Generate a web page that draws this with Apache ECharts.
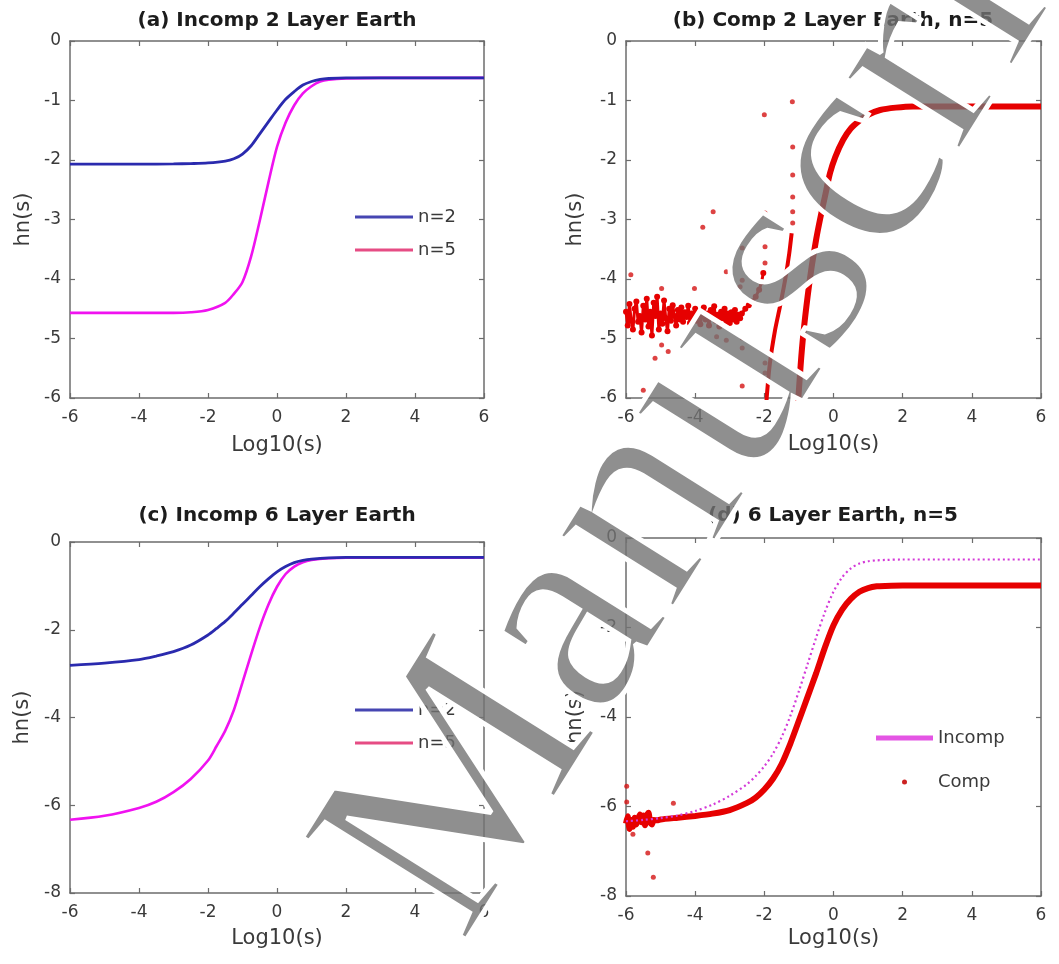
<!DOCTYPE html>
<html>
<head>
<meta charset="utf-8">
<title>hn(s) versus Log10(s)</title>
<script src="https://cdn.jsdelivr.net/npm/echarts@6.0.0/dist/echarts.min.js"></script>
<style>
  html, body { margin: 0; padding: 0; background: #ffffff; }
  #chart { width: 1059px; height: 964px; }
</style>
</head>
<body>
<div id="chart"></div>
<script>
// ---------- data ----------
// (a) incompressible 2-layer Earth
const aX   = [-6, -5, -4, -3, -2.5, -2, -1.5, -1.25, -1, -0.75, -0.5, -0.25, 0, 0.25, 0.5, 0.75, 1, 1.25, 1.5, 2, 3, 4, 5, 6];
const aN2  = [-2.07, -2.07, -2.07, -2.065, -2.06, -2.05, -2.02, -1.98, -1.90, -1.76, -1.56, -1.36, -1.16, -0.98, -0.85, -0.74, -0.68, -0.645, -0.63, -0.62, -0.62, -0.62, -0.62, -0.62];
const aN5  = [-4.57, -4.57, -4.57, -4.57, -4.56, -4.52, -4.40, -4.25, -4.05, -3.62, -3.02, -2.38, -1.78, -1.37, -1.08, -0.88, -0.76, -0.68, -0.65, -0.63, -0.62, -0.62, -0.62, -0.62];

// (b) compressible 2-layer Earth, n=5
const bMainX = [-1.05, -0.95, -0.87, -0.75, -0.63, -0.5, -0.39, -0.25, -0.1, 0.05, 0.28, 0.5, 0.77, 1.0, 1.35, 1.8, 2.3, 3, 4, 5, 6];
const bMainY = [-6.3, -5.45, -4.91, -4.30, -3.79, -3.33, -3.0, -2.62, -2.22, -1.95, -1.66, -1.47, -1.33, -1.24, -1.16, -1.12, -1.10, -1.10, -1.10, -1.10, -1.10];
const bNoise = [
  [-6.00, -4.55], [-5.95, -4.78], [-5.90, -4.42], [-5.85, -4.70], [-5.80, -4.85], [-5.75, -4.50],
  [-5.70, -4.38], [-5.65, -4.72], [-5.60, -4.62], [-5.55, -4.90], [-5.50, -4.45], [-5.45, -4.68],
  [-5.40, -4.33], [-5.35, -4.80], [-5.30, -4.55], [-5.25, -4.95], [-5.20, -4.40], [-5.15, -4.62],
  [-5.10, -4.30], [-5.05, -4.85], [-5.00, -4.58], [-4.95, -4.75], [-4.90, -4.36], [-4.85, -4.66],
  [-4.80, -4.88], [-4.75, -4.50], [-4.70, -4.70], [-4.65, -4.44], [-4.60, -4.62], [-4.55, -4.78],
  [-4.50, -4.52], [-4.45, -4.68], [-4.40, -4.48], [-4.35, -4.72], [-4.30, -4.56], [-4.25, -4.64],
  [-4.20, -4.45], [-4.15, -4.74], [-4.10, -4.58], [-4.05, -4.66], [-4.00, -4.50], [-3.95, -4.70],
  [-3.90, -4.55], [-3.85, -4.76], [-3.80, -4.60], [-3.75, -4.48], [-3.70, -4.68], [-3.65, -4.58],
  [-3.60, -4.78], [-3.55, -4.52], [-3.50, -4.64], [-3.45, -4.46], [-3.40, -4.70], [-3.35, -4.60],
  [-3.30, -4.80], [-3.25, -4.55], [-3.20, -4.66], [-3.15, -4.50], [-3.10, -4.72], [-3.05, -4.58],
  [-3.00, -4.74], [-2.95, -4.56], [-2.90, -4.68], [-2.85, -4.52], [-2.80, -4.72], [-2.75, -4.60],
  [-2.70, -4.66], [-2.65, -4.58], [-2.55, -4.50], [-2.45, -4.44], [-2.35, -4.38], [-2.25, -4.30],
  [-2.15, -4.18], [-2.08, -4.05], [-2.03, -3.90]
];
const bBranch = [[-1.95, -6.2], [-1.93, -5.98], [-1.84, -5.42], [-1.69, -4.86], [-1.55, -4.47], [-1.40, -4.02], [-1.28, -3.57], [-1.21, -3.23]];
const bDots = [
  [-5.86, -3.93], [-5.50, -5.87], [-5.16, -5.33], [-4.97, -5.11], [-4.78, -5.22], [-4.97, -4.16],
  [-4.02, -4.16], [-3.78, -3.13], [-3.48, -2.87], [-3.38, -4.97], [-3.10, -3.88], [-3.10, -5.03],
  [-2.64, -3.48], [-2.64, -4.02], [-2.64, -4.99], [-2.64, -5.16], [-2.64, -5.80], [-2.70, -4.13],
  [-2.00, -1.24], [-1.98, -2.89], [-1.98, -3.46], [-1.98, -3.73], [-1.98, -5.41], [-1.98, -5.58],
  [-1.19, -1.02], [-1.18, -1.78], [-1.18, -2.25], [-1.18, -2.62], [-1.18, -2.87], [-1.18, -3.06]
];

// (c) incompressible 6-layer Earth
const cX   = [-6, -5, -4, -3.5, -3, -2.5, -2, -1.75, -1.5, -1.25, -1, -0.75, -0.5, -0.25, 0, 0.25, 0.5, 0.75, 1, 1.5, 2, 3, 4, 5, 6];
const cN2  = [-2.81, -2.76, -2.68, -2.60, -2.50, -2.35, -2.12, -1.97, -1.81, -1.62, -1.42, -1.22, -1.02, -0.84, -0.68, -0.56, -0.47, -0.42, -0.39, -0.36, -0.35, -0.35, -0.35, -0.35, -0.35];
const cN5  = [-6.33, -6.24, -6.06, -5.92, -5.70, -5.40, -4.98, -4.65, -4.30, -3.83, -3.20, -2.56, -1.95, -1.43, -1.02, -0.73, -0.56, -0.46, -0.41, -0.37, -0.36, -0.36, -0.36, -0.36, -0.36];

// (d) 6-layer Earth, n=5: incompressible vs compressible
const dX       = [-6, -5.5, -5, -4.5, -4, -3.5, -3, -2.5, -2.25, -2, -1.75, -1.5, -1.25, -1, -0.75, -0.5, -0.25, 0, 0.25, 0.5, 0.75, 1, 1.25, 1.5, 2, 3, 4, 5, 6];
const dIncomp  = [-6.33, -6.30, -6.26, -6.20, -6.10, -5.96, -5.76, -5.50, -5.32, -5.10, -4.82, -4.45, -3.98, -3.42, -2.82, -2.22, -1.66, -1.20, -0.88, -0.68, -0.57, -0.52, -0.50, -0.49, -0.48, -0.48, -0.48, -0.48, -0.48];
const dCompHead = [
  [-6.00, -6.38], [-5.95, -6.22], [-5.90, -6.50], [-5.85, -6.30], [-5.80, -6.45], [-5.75, -6.25],
  [-5.70, -6.40], [-5.65, -6.28], [-5.60, -6.18], [-5.55, -6.35], [-5.50, -6.20], [-5.45, -6.42],
  [-5.40, -6.20], [-5.35, -6.14], [-5.30, -6.36], [-5.25, -6.40], [-5.20, -6.30], [-5.10, -6.31]
];
const dCompX = [-5.0, -4.5, -4, -3.5, -3, -2.5, -2.25, -2, -1.75, -1.5, -1.25, -1, -0.75, -0.5, -0.25, 0, 0.25, 0.5, 0.75, 1, 1.25, 1.5, 2, 3, 4, 5, 6];
const dCompY = [-6.29, -6.25, -6.21, -6.16, -6.08, -5.92, -5.80, -5.62, -5.38, -5.05, -4.60, -4.08, -3.55, -3.02, -2.45, -1.95, -1.60, -1.36, -1.20, -1.12, -1.08, -1.07, -1.06, -1.06, -1.06, -1.06, -1.06];
const dDots = [[-5.98, -5.55], [-5.98, -5.90], [-5.80, -6.62], [-5.37, -7.04], [-5.21, -7.58], [-4.63, -5.93]];

// ---------- styling ----------
const FONT = 'DejaVu Sans';
const TXT = '#3a3a3a';
const AXC = '#6c6c6c';
const BLUE = '#2a2aae';
const MAG = '#f012f0';
const RED = '#e60000';

const pairs = (xs, ys) => xs.map((x, i) => [x, ys[i]]);

const grids = [
  { left: 70,  top: 41,  width: 414, height: 357 },
  { left: 626, top: 41,  width: 415, height: 357 },
  { left: 70,  top: 542, width: 414, height: 351 },
  { left: 626, top: 538, width: 415, height: 358 }
];
const yRange = [
  { min: -6, max: 0, interval: 1 },
  { min: -6, max: 0, interval: 1 },
  { min: -8, max: 0, interval: 2 },
  { min: -8, max: 0, interval: 2 }
];
const xNameGap = [37, 36, 35, 32];
const yNameGap = [36, 40, 37, 40];

const xAxis = [];
const yAxis = [];
grids.forEach((g, i) => {
  const line = { onZero: false, lineStyle: { color: AXC, width: 1.5 } };
  const tick = { inside: true, length: 5, lineStyle: { color: AXC, width: 1.2 } };
  xAxis.push({
    type: 'value', gridIndex: i, position: 'bottom', min: -6, max: 6, interval: 2,
    axisLine: line, axisTick: tick, splitLine: { show: false },
    axisLabel: { margin: 11, fontSize: 17, color: TXT, fontFamily: FONT },
    name: 'Log10(s)', nameLocation: 'middle', nameGap: xNameGap[i],
    nameTextStyle: { fontSize: 21, color: TXT, fontFamily: FONT }
  });
  xAxis.push({
    type: 'value', gridIndex: i, position: 'top', min: -6, max: 6, interval: 2,
    axisLine: line, axisTick: tick, splitLine: { show: false }, axisLabel: { show: false }
  });
  yAxis.push({
    type: 'value', gridIndex: i, position: 'left',
    min: yRange[i].min, max: yRange[i].max, interval: yRange[i].interval,
    axisLine: line, axisTick: tick, splitLine: { show: false },
    axisLabel: { margin: 9, fontSize: 17, color: TXT, fontFamily: FONT },
    name: 'hn(s)', nameLocation: 'middle', nameGap: yNameGap[i], nameRotate: 90,
    nameTextStyle: { fontSize: 21, color: TXT, fontFamily: FONT }
  });
  yAxis.push({
    type: 'value', gridIndex: i, position: 'right',
    min: yRange[i].min, max: yRange[i].max, interval: yRange[i].interval,
    axisLine: line, axisTick: tick, splitLine: { show: false }, axisLabel: { show: false }
  });
});

const lineSeries = (name, gi, data, color, width, extra) => Object.assign({
  type: 'line', name: name, xAxisIndex: 2 * gi, yAxisIndex: 2 * gi, data: data,
  showSymbol: false, symbol: 'none', smooth: 0.3, clip: true, silent: true,
  lineStyle: { color: color, width: width }, itemStyle: { color: color }
}, extra || {});

const dotSeries = (name, gi, data, size) => ({
  type: 'scatter', name: name, xAxisIndex: 2 * gi, yAxisIndex: 2 * gi, data: data,
  symbol: 'circle', symbolSize: size, silent: true, clip: true,
  itemStyle: { color: '#d41414' }
});

const titleStyle = { fontSize: 20, fontWeight: 'bold', color: '#1c1c1c', fontFamily: FONT, lineHeight: 24 };
const legendText = { fontSize: 18, color: TXT, fontFamily: FONT, lineHeight: 18 };

// diagonal "Manuscript" stamp across the figure: grey glyphs, then a thin
// white outline pass that leaves a halo where it crosses the plots
const stampWord = 'Manuscript';
const stampPos = { x: 396, y: 906, rotation: 1.012 };
const stampFont = { fontFamily: 'Liberation Serif', fontSize: 295, fontWeight: 'normal' };

const option = {
  animation: false,
  backgroundColor: '#ffffff',
  title: [
    { text: '(a) Incomp 2 Layer Earth', left: 277, top: 9, textAlign: 'center', padding: 0, textStyle: titleStyle },
    { text: '(b) Comp 2 Layer Earth, n=5', left: 833, top: 9, textAlign: 'center', padding: 0, textStyle: titleStyle },
    { text: '(c) Incomp 6 Layer Earth', left: 277, top: 504, textAlign: 'center', padding: 0, textStyle: titleStyle },
    { text: '(d) 6 Layer Earth, n=5', left: 833, top: 504, textAlign: 'center', padding: 0, textStyle: titleStyle }
  ],
  grid: grids.map(g => Object.assign({ containLabel: false, outerBoundsMode: 'none' }, g)),
  xAxis: xAxis,
  yAxis: yAxis,
  legend: [
    {
      left: 355, top: 208, orient: 'vertical', itemWidth: 58, itemHeight: 3, itemGap: 15,
      icon: 'rect', selectedMode: false, padding: 0, textStyle: legendText,
      data: [{ name: 'n=2', itemStyle: { color: '#4646b2' } }, { name: 'n=5', itemStyle: { color: '#e64c84' } }]
    },
    {
      left: 355, top: 701, orient: 'vertical', itemWidth: 58, itemHeight: 3, itemGap: 15,
      icon: 'rect', selectedMode: false, padding: 0, textStyle: legendText,
      data: [{ name: 'n=2', itemStyle: { color: '#4646b2' } }, { name: 'n=5', itemStyle: { color: '#e64c84' } }]
    },
    {
      left: 876, top: 729, orient: 'vertical', itemWidth: 57, itemHeight: 5, itemGap: 26,
      selectedMode: false, padding: 0, textStyle: legendText,
      data: [
        { name: 'Incomp', icon: 'rect', itemStyle: { color: '#e455e4' } },
        { name: 'Comp', icon: 'circle', itemStyle: { color: '#cc2222' } }
      ]
    }
  ],
  series: [
    // (a)
    lineSeries('n=5', 0, pairs(aX, aN5), MAG, 2.6, { z: 2 }),
    lineSeries('n=2', 0, pairs(aX, aN2), BLUE, 2.8, { z: 3 }),
    // (b)
    lineSeries('comp-noise', 1, bNoise, RED, 3, { smooth: false, showSymbol: true, symbol: 'circle', symbolSize: 6 }),
    lineSeries('comp-branch', 1, bBranch, RED, 4, { smooth: 0.2 }),
    lineSeries('comp-main', 1, pairs(bMainX, bMainY), RED, 6, { smooth: 0.3 }),
    dotSeries('comp-dots', 1, bDots, 5),
    // (c)
    lineSeries('n=5', 2, pairs(cX, cN5), MAG, 2.6, { z: 2 }),
    lineSeries('n=2', 2, pairs(cX, cN2), BLUE, 2.8, { z: 3 }),
    // (d)
    lineSeries('Incomp', 3, pairs(dX, dIncomp), '#e040e0', 2.2, { lineStyle: { color: '#d43ad8', width: 2.2, type: [2, 3] }, z: 3 }),
    lineSeries('Comp', 3, dCompHead.concat(pairs(dCompX, dCompY)), RED, 6, { smooth: 0.2, z: 2 }),
    dotSeries('comp-dots-d', 3, dDots, 5)
  ],
  graphic: [
    {
      type: 'text', x: stampPos.x, y: stampPos.y, rotation: stampPos.rotation, z: 100, silent: true,
      style: Object.assign({
        text: stampWord, fill: 'rgba(115,115,115,0.8)',
        textAlign: 'left', textVerticalAlign: 'middle', align: 'left', verticalAlign: 'middle'
      }, stampFont)
    },
    {
      type: 'text', x: stampPos.x, y: stampPos.y, rotation: stampPos.rotation, z: 101, silent: true,
      style: Object.assign({
        text: stampWord, fill: 'rgba(255,255,255,0)', stroke: '#ffffff', lineWidth: 5,
        textAlign: 'left', textVerticalAlign: 'middle', align: 'left', verticalAlign: 'middle'
      }, stampFont)
    }
  ]
};

const chart = echarts.init(document.getElementById('chart'), null, { renderer: 'canvas' });
chart.setOption(option);
</script>
</body>
</html>
